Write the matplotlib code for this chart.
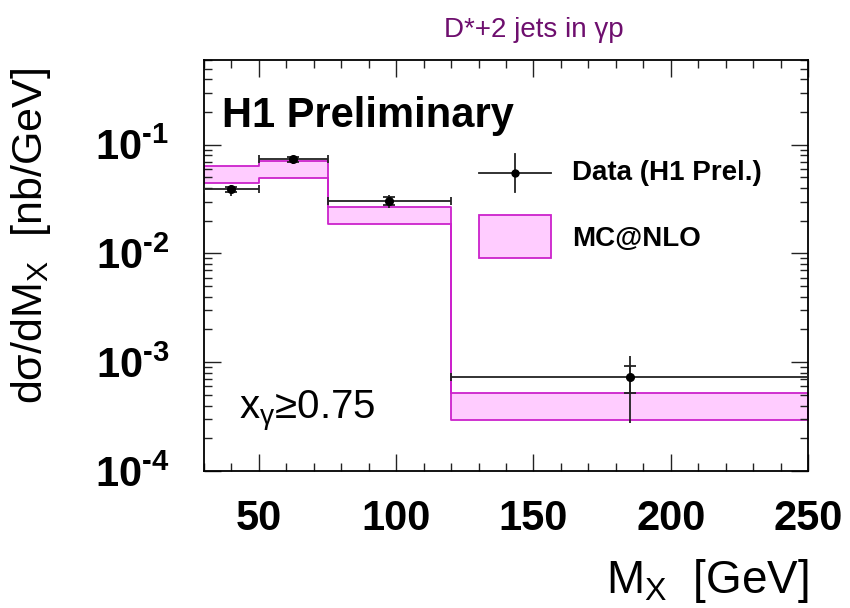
import matplotlib
matplotlib.use("Agg")
import matplotlib.pyplot as plt
import numpy as np
from matplotlib.ticker import LogLocator, MultipleLocator, FixedLocator, NullFormatter

# ---- data ----
bin_edges = [30, 50, 75, 120, 250]
data_y = [0.0388, 0.0736, 0.0305, 7.28e-4]
stat_up = [0.0410, 0.0765, 0.0330, 9.26e-4]
stat_dn = [0.0365, 0.0700, 0.0280, 5.19e-4]
tot_up = [0.0430, 0.0780, 0.0347, 1.135e-3]
tot_dn = [0.0335, 0.0670, 0.0263, 2.77e-4]
mc_hi = [0.0630, 0.0712, 0.0268, 5.22e-4]
mc_lo = [0.0447, 0.0497, 0.0187, 2.92e-4]
xticks = [50, 100, 150, 200, 250]
yticks = [1e-4, 1e-3, 1e-2, 1e-1]
yexps = [-4, -3, -2, -1]

plt.rcParams['font.family'] = ['Liberation Sans', 'DejaVu Sans']
plt.rcParams['mathtext.fontset'] = 'custom'
plt.rcParams['mathtext.rm'] = 'Liberation Sans'
plt.rcParams['mathtext.bf'] = 'Liberation Sans:bold'
plt.rcParams['mathtext.it'] = 'Liberation Sans:italic'
plt.rcParams['mathtext.sf'] = 'Liberation Sans'

fig = plt.figure(figsize=(8.5, 6.08), dpi=100)
ax = fig.add_axes([0.24, 0.2253, 0.7106, 0.676])

edges = np.array(bin_edges, dtype=float)
centers = 0.5 * (edges[:-1] + edges[1:])
halfw = 0.5 * (edges[1:] - edges[:-1])
y = np.array(data_y)

# MC band
hi = np.append(mc_hi, mc_hi[-1])
lo = np.append(mc_lo, mc_lo[-1])
ax.fill_between(edges, lo, hi, step='post', facecolor='#ffccff',
                edgecolor='#cc22cc', linewidth=1.3, zorder=1)

dcol = '#222222'
ax.errorbar(centers, y, xerr=halfw, fmt='none', ecolor=dcol, elinewidth=1.3,
            capsize=2.6, capthick=1.3, zorder=3)
ax.errorbar(centers, y, yerr=[y - np.array(tot_dn), np.array(tot_up) - y], fmt='none',
            ecolor=dcol, elinewidth=1.3, capsize=0, zorder=3)
ax.errorbar(centers, y, yerr=[y - np.array(stat_dn), np.array(stat_up) - y], fmt='none',
            ecolor=dcol, elinewidth=1.3, capsize=4.2, capthick=1.3, zorder=3)
ax.plot(centers, y, 'o', color='black', markersize=5.5, zorder=4)

ax.set_yscale('log')
ax.set_xlim(30, 250)
ax.set_ylim(1e-4, 0.6)

ax.xaxis.set_major_locator(FixedLocator(xticks))
ax.xaxis.set_minor_locator(MultipleLocator(10))
ax.yaxis.set_minor_locator(LogLocator(base=10, subs=np.arange(2, 10), numticks=20))
ax.yaxis.set_minor_formatter(NullFormatter())
ax.set_yticks(yticks)
hy = '\u2010'
ax.set_yticklabels(['$\\mathbf{10}^{\\mathbf{' + hy + '%d}}$' % (-e) for e in yexps])
ax.set_xticklabels([str(v) for v in xticks])

ax.tick_params(which='both', direction='in', top=True, right=True, width=1.0, colors='#222222')
ax.tick_params(which='major', length=12)
ax.tick_params(which='minor', length=6)
ax.tick_params(axis='x', which='major', pad=20)
ax.tick_params(axis='y', which='major', pad=25)
for lab in ax.get_xticklabels():
    lab.set_fontsize(30); lab.set_fontweight('bold'); lab.set_color('black')
for lab in ax.get_yticklabels():
    lab.set_fontsize(30); lab.set_color('black')
for s in ax.spines.values():
    s.set_linewidth(1.3)

ax.set_ylabel('dσ/dM$_{\\mathrm{X}}$  [nb/GeV]', fontsize=31)
ax.yaxis.set_label_coords(-0.25, 0.572)
fig.text(0.952, 0.024, 'M$_{\\mathrm{X}}$  [GeV]', fontsize=33, ha='right', va='baseline')

fig.text(0.628, 0.951, 'D*+2 jets in γp', fontsize=20, color='#6e0f6e', ha='center', va='center')
ax.text(0.03, 0.864, 'H1 Preliminary', transform=ax.transAxes, fontsize=30, fontweight='bold', va='center')
ax.text(0.058, 0.148, 'x$_{\\mathrm{γ}}$≥0.75', transform=ax.transAxes, fontsize=29, va='center')

# legend (manual keys)
lx0, lx1 = 0.455, 0.574
lxm = 0.5 * (lx0 + lx1)
ly_d = 0.7245
ax.plot([lx0, lx1], [ly_d, ly_d], color=dcol, lw=1.3, transform=ax.transAxes, clip_on=False)
ax.plot([lxm, lxm], [ly_d - 0.046, ly_d + 0.046], color=dcol, lw=1.3, transform=ax.transAxes, clip_on=False)
ax.plot([lxm], [ly_d], 'o', color='black', markersize=5, transform=ax.transAxes)
ax.add_patch(plt.Rectangle((lx0, 0.518), lx1 - lx0, 0.105, transform=ax.transAxes,
                           facecolor='#ffccff', edgecolor='#cc22cc', lw=1.3))
ax.text(0.609, ly_d, 'Data (H1 Prel.)', transform=ax.transAxes, fontsize=20, fontweight='bold', va='center')
ax.text(0.609, 0.5645, 'MC@NLO', transform=ax.transAxes, fontsize=20, fontweight='bold', va='center')

fig.savefig('out.png', dpi=100)
